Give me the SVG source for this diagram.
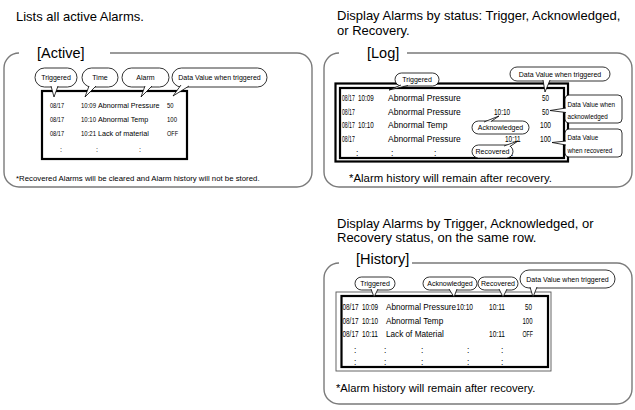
<svg xmlns="http://www.w3.org/2000/svg" width="635" height="410" viewBox="0 0 635 410">
<style>
text{font-family:"Liberation Sans",Arial,Helvetica,sans-serif;fill:#000}
.hdr{font-size:13px}
.ttl{font-size:14.5px}
.panel{fill:none;stroke:#7a7a7a;stroke-width:1.4}
.frame{fill:none;stroke:#000;stroke-width:2.2}
.thin{fill:none;stroke:#555;stroke-width:0.9}
.bub{fill:#fff;stroke:#000;stroke-width:0.8}
.tail{fill:#fff;stroke:#000;stroke-width:0.8;stroke-linejoin:miter}
.bt{font-size:7px;text-anchor:middle}
.bx{font-size:6.3px}
.ra{font-size:7.2px}
.rl{font-size:8.5px}
.rh{font-size:8.2px}
.na{font-size:7.8px}
.nb{font-size:11.4px}
</style>
<rect width="635" height="410" fill="#fff"/>

<g id="active">
  <text class="hdr" x="16" y="20.5">Lists all active Alarms.</text>
  <path class="panel" d="M110,53 H297 A15,15 0 0 1 312,68 V172 A15,15 0 0 1 297,187 H19 A15,15 0 0 1 4,172 V68 A15,15 0 0 1 19,53"/>
  <text class="ttl" x="37" y="58">[Active]</text>
  <g id="active-table">
    <rect class="frame" x="42" y="91" width="145" height="68"/>
    <text class="ra" x="50" y="107.5" textLength="14" lengthAdjust="spacingAndGlyphs">08/17</text>
    <text class="ra" x="81" y="107.5" textLength="15" lengthAdjust="spacingAndGlyphs">10:09</text>
    <text class="ra" x="98" y="107.5">Abnormal Pressure</text>
    <text class="ra" x="167" y="107.5" textLength="6.5" lengthAdjust="spacingAndGlyphs">50</text>
    <text class="ra" x="50" y="121.5" textLength="14" lengthAdjust="spacingAndGlyphs">08/17</text>
    <text class="ra" x="81" y="121.5" textLength="15" lengthAdjust="spacingAndGlyphs">10:10</text>
    <text class="ra" x="98" y="121.5">Abnormal Temp</text>
    <text class="ra" x="167" y="121.5" textLength="10" lengthAdjust="spacingAndGlyphs">100</text>
    <text class="ra" x="50" y="135.5" textLength="14" lengthAdjust="spacingAndGlyphs">08/17</text>
    <text class="ra" x="81" y="135.5" textLength="15" lengthAdjust="spacingAndGlyphs">10:21</text>
    <text class="ra" x="98" y="135.5">Lack of material</text>
    <text class="ra" x="167" y="135.5" textLength="11" lengthAdjust="spacingAndGlyphs">OFF</text>
    <text class="ra" x="60" y="152">:</text>
    <text class="ra" x="96" y="152">:</text>
    <text class="ra" x="139" y="152">:</text>
  </g>
  <g id="active-triggered">
    <rect class="bub" x="35" y="68" width="42" height="19" rx="9.5"/>
    <text class="bt" x="56" y="80">Triggered</text>
  </g>
  <g id="active-time">
    <rect class="bub" x="82" y="68" width="36" height="19" rx="9.5"/>
    <text class="bt" x="100" y="80">Time</text>
  </g>
  <g id="active-alarm">
    <rect class="bub" x="122" y="68" width="47" height="19" rx="9.5"/>
    <text class="bt" x="145.5" y="80">Alarm</text>
  </g>
  <g id="active-data">
    <rect class="bub" x="172" y="68" width="95" height="19" rx="9.5"/>
    <text class="bt" x="219.5" y="80">Data Value when triggered</text>
  </g>
  <text class="na" x="16" y="180.5">*Recovered Alarms will be cleared and Alarm history will not be stored.</text>
</g>

<g id="log">
  <text class="hdr" x="337" y="20">Display Alarms by status: Trigger, Acknowledged,</text>
  <text class="hdr" x="337" y="34.5">or Recovery.</text>
  <path class="panel" d="M407,53 H617 A15,15 0 0 1 632,68 V172 A15,15 0 0 1 617,187 H339 A15,15 0 0 1 324,172 V68 A15,15 0 0 1 339,53"/>
  <text class="ttl" x="367" y="58">[Log]</text>
  <g id="log-table">
    <text class="rl" transform="translate(342,101) scale(0.6,1)">08/17</text>
    <text class="rl" transform="translate(358,101) scale(0.74,1)">10:09</text>
    <text class="rl" x="388" y="101">Abnormal Pressure</text>
    <text class="rl" x="542" y="101" textLength="7" lengthAdjust="spacingAndGlyphs">50</text>
    <text class="rl" transform="translate(342,114.5) scale(0.6,1)">08/17</text>
    <text class="rl" x="388" y="114.5">Abnormal Pressure</text>
    <text class="rl" transform="translate(494,114.5) scale(0.76,1)">10:10</text>
    <text class="rl" x="542" y="114.5" textLength="7" lengthAdjust="spacingAndGlyphs">50</text>
    <text class="rl" transform="translate(342,128) scale(0.6,1)">08/17</text>
    <text class="rl" transform="translate(358,128) scale(0.74,1)">10:10</text>
    <text class="rl" x="388" y="128">Abnormal Temp</text>
    <text class="rl" x="540" y="128" textLength="11" lengthAdjust="spacingAndGlyphs">100</text>
    <text class="rl" transform="translate(342,141.5) scale(0.6,1)">08/17</text>
    <text class="rl" x="388" y="141.5">Abnormal Pressure</text>
    <text class="rl" transform="translate(505,141.5) scale(0.76,1)">10:11</text>
    <text class="rl" x="540" y="141.5" textLength="11" lengthAdjust="spacingAndGlyphs">100</text>
    <text class="rl" x="356" y="156">:</text>
    <text class="rl" x="391" y="156">:</text>
    <text class="rl" x="434" y="156">:</text>
    <text class="rl" x="511" y="156">:</text>
    <rect class="frame" x="335.5" y="83.5" width="232.5" height="78"/>
    <rect class="frame" x="340" y="88" width="224" height="70"/>
  </g>
  <g id="log-triggered">
    <rect class="bub" x="395" y="73" width="44" height="13" rx="6.5"/>
    <text class="bt" x="417" y="82">Triggered</text>
  </g>
  <g id="log-data">
    <rect class="bub" x="510" y="67" width="100" height="14" rx="7"/>
    <text class="bt" x="560" y="76.5">Data Value when triggered</text>
  </g>
  <g id="log-ack">
    <rect class="bub" x="472" y="121" width="57" height="13" rx="6.5"/>
    <text class="bt" x="500.5" y="130">Acknowledged</text>
  </g>
  <g id="log-rec">
    <rect class="bub" x="472" y="145" width="41" height="13" rx="6.5"/>
    <text class="bt" x="492.5" y="154">Recovered</text>
  </g>
  <g id="log-ackval">
    <rect class="bub" x="565" y="95" width="57" height="28" rx="4"/>
    <text class="bx" x="567.5" y="106.5">Data Value when</text>
    <text class="bx" x="567.5" y="119">acknowledged</text>
  </g>
  <g id="log-recval">
    <rect class="bub" x="565" y="129" width="57" height="28" rx="4"/>
    <text class="bx" x="567.5" y="140">Data Value</text>
    <text class="bx" x="567.5" y="152.5">when recovered</text>
  </g>
  <text class="nb" x="349" y="181.5">*Alarm history will remain after recovery.</text>
</g>

<g id="history">
  <text class="hdr" x="337" y="227.5">Display Alarms by Trigger, Acknowledged, or</text>
  <text class="hdr" x="337" y="241.5">Recovery status, on the same row.</text>
  <path class="panel" d="M412,263 H617 A15,15 0 0 1 632,278 V389 A15,15 0 0 1 617,404 H339 A15,15 0 0 1 324,389 V278 A15,15 0 0 1 339,263"/>
  <text class="ttl" x="356" y="264">[History]</text>
  <g id="history-table">
    <text class="rh" x="342.5" y="310" textLength="16" lengthAdjust="spacingAndGlyphs">08/17</text>
    <text class="rh" x="362" y="310" textLength="16" lengthAdjust="spacingAndGlyphs">10:09</text>
    <text class="rh" x="386" y="310">Abnormal Pressure</text>
    <text class="rh" x="456.5" y="310" textLength="16.5" lengthAdjust="spacingAndGlyphs">10:10</text>
    <text class="rh" x="489" y="310" textLength="16" lengthAdjust="spacingAndGlyphs">10:11</text>
    <text class="rh" x="525" y="310" textLength="7" lengthAdjust="spacingAndGlyphs">50</text>
    <text class="rh" x="342.5" y="323.5" textLength="16" lengthAdjust="spacingAndGlyphs">08/17</text>
    <text class="rh" x="362" y="323.5" textLength="16" lengthAdjust="spacingAndGlyphs">10:10</text>
    <text class="rh" x="386" y="323.5">Abnormal Temp</text>
    <text class="rh" x="522.5" y="323.5" textLength="10" lengthAdjust="spacingAndGlyphs">100</text>
    <text class="rh" x="342.5" y="337" textLength="16" lengthAdjust="spacingAndGlyphs">08/17</text>
    <text class="rh" x="362" y="337" textLength="16" lengthAdjust="spacingAndGlyphs">10:11</text>
    <text class="rh" x="386" y="337">Lack of Material</text>
    <text class="rh" x="489" y="337" textLength="16" lengthAdjust="spacingAndGlyphs">10:11</text>
    <text class="rh" x="522.5" y="337" textLength="10.5" lengthAdjust="spacingAndGlyphs">OFF</text>
    <text class="rh" x="354" y="352.5">:</text>
    <text class="rh" x="384" y="352.5">:</text>
    <text class="rh" x="421" y="352.5">:</text>
    <text class="rh" x="467" y="352.5">:</text>
    <text class="rh" x="501" y="352.5">:</text>
    <text class="rh" x="354" y="364.5">:</text>
    <text class="rh" x="384" y="364.5">:</text>
    <text class="rh" x="421" y="364.5">:</text>
    <text class="rh" x="467" y="364.5">:</text>
    <text class="rh" x="501" y="364.5">:</text>
    <rect class="thin" x="336" y="292" width="215" height="79"/>
    <rect class="frame" x="341.5" y="296" width="206.5" height="71"/>
  </g>
  <g id="history-triggered">
    <rect class="bub" x="355" y="277" width="40" height="13" rx="6.5"/>
    <text class="bt" x="375" y="286">Triggered</text>
  </g>
  <g id="history-ack">
    <rect class="bub" x="423" y="277" width="54" height="13" rx="6.5"/>
    <text class="bt" x="450" y="286">Acknowledged</text>
  </g>
  <g id="history-rec">
    <rect class="bub" x="478" y="277" width="40" height="13" rx="6.5"/>
    <text class="bt" x="498" y="286">Recovered</text>
  </g>
  <g id="history-data">
    <rect class="bub" x="520" y="270" width="95" height="18" rx="9"/>
    <text class="bt" x="567.5" y="281.5">Data Value when triggered</text>
  </g>
  <text class="nb" x="336" y="392" style="font-size:11.2px">*Alarm history will remain after recovery.</text>
</g>

<g id="connectors">
  <path class="tail" d="M51,86 L54,97 L58,86"/>
  <path class="tail" d="M89,86 L85,97 L96,86"/>
  <path class="tail" d="M145,86 L141,97 L152,86"/>
  <path class="tail" d="M181,85 L173,96 L189,86"/>
  <path class="tail" d="M401,85 L389,90 L408,85.5"/>
  <path class="tail" d="M543,80 L545,92 L550,80"/>
  <path class="tail" d="M484,122 L499,116 L491,121.5"/>
  <path class="tail" d="M504,146 L518,141 L510,146.5"/>
  <path class="tail" d="M566,108 L550,110.5 L566,112.5"/>
  <path class="tail" d="M566,141 L552,142.5 L566,145"/>
  <path class="tail" d="M371,289 L374,297 L378,289"/>
  <path class="tail" d="M449,289 L454,297 L457,289"/>
  <path class="tail" d="M499,289 L503,297 L507,289"/>
  <path class="tail" d="M530,287 L533,297 L537,287"/>
</g>
</svg>
